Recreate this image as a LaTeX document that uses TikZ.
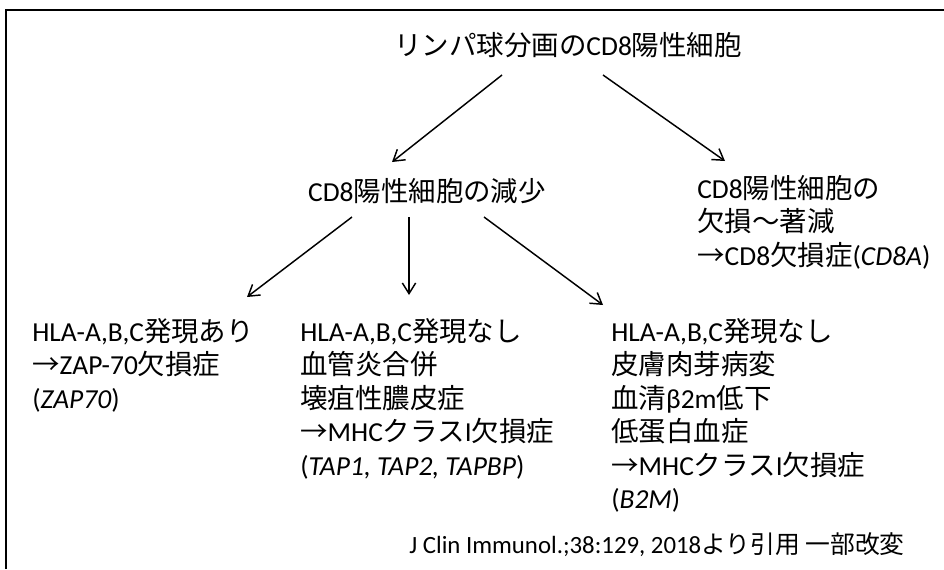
\documentclass[tikz,border=0pt]{standalone}
\usepackage{fontspec}
\usepackage{tikz}
\usetikzlibrary{arrows.meta,calc}
\setmainfont{Carlito}
\newfontfamily\jpfont{Noto Sans CJK JP}
\newcommand{\ja}[1]{{\jpfont #1}}
\tikzset{
    info-text/.style = {inner sep=0pt, align=left, font=\fontsize{20.6}{25.1}\selectfont},
    cite-text/.style = {inner sep=0pt, font=\fontsize{18.6}{22}\selectfont},
    flow-arrow/.style = {line width=1.1pt, -{Straight Barb[length=8pt, width=10pt, line width=1.1pt]}},
}

\begin{document}
\begin{tikzpicture}[x=0.75pt, y=-0.75pt]
\useasboundingbox (0,0) rectangle (944,569);
\draw[line width=1.2pt] (6,569) -- (6,10);
\draw[line width=1.8pt] (5.2,10) -- (944,10);
\node[info-text] (title) at (568,45) {\ja{リンパ球分画の}CD8\ja{陽性細胞}};
\node[info-text] (dec) at (427,191) {CD8\ja{陽性細胞の減少}};
\node[info-text, anchor=north west] (def) at (697,175) {CD8\ja{陽性細胞の}\\ \ja{欠損〜著減}\\ \ja{→}CD8\ja{欠損症}(\textit{CD8A})};
\node[info-text, anchor=north west] (zap) at (32,318) {HLA-A,B,C\ja{発現あり}\\ \ja{→}ZAP-70\ja{欠損症}\\ (\textit{ZAP70})};
\node[info-text, anchor=north west] (tap) at (300,318) {HLA-A,B,C\ja{発現なし}\\ \ja{血管炎合併}\\ \ja{壊疽性膿皮症}\\ \ja{→}MHC\ja{クラス}I\ja{欠損症}\\ (\textit{TAP1, TAP2, TAPBP})};
\node[info-text, anchor=north west] (btm) at (611,318) {HLA-A,B,C\ja{発現なし}\\ \ja{皮膚肉芽病変}\\ \ja{血清}β2m\ja{低下}\\ \ja{低蛋白血症}\\ \ja{→}MHC\ja{クラス}I\ja{欠損症}\\ (\textit{B2M})};
\node[cite-text, anchor=east] (cite) at (905,545) {J Clin Immunol.;38:129, 2018\ja{より引用 一部改変}};
\draw[flow-arrow] ($(title)+(-66,30)$) -- ($(dec)+(-35,-29)$);
\draw[flow-arrow] ($(title)+(35,30)$) -- ($(def.north west)+(28,-14)$);
\draw[flow-arrow] ($(dec)+(-75,26)$) -- ($(zap.north west)+(215,-21)$);
\draw[flow-arrow] ($(dec)+(-18,26)$) -- ($(tap.north west)+(109,-23)$);
\draw[flow-arrow] ($(dec)+(57,26)$) -- ($(btm.north west)+(-8,-13)$);
\end{tikzpicture}
\end{document}
